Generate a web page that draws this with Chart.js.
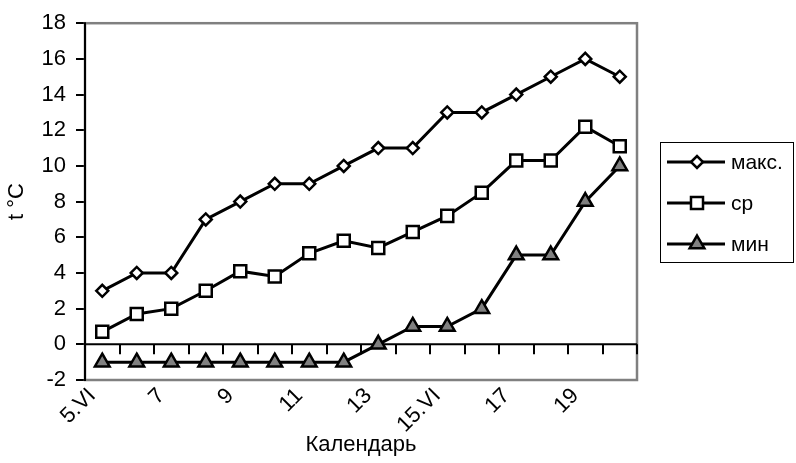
<!DOCTYPE html>
<html lang="ru">
<head>
<meta charset="UTF-8">
<title>Температура воздуха</title>
<script src="https://cdn.jsdelivr.net/npm/chart.js"></script>
<style>
  html, body { margin: 0; padding: 0; background: #fff; }
  #wrap { width: 796px; height: 463px; }
</style>
</head>
<body>
<div id="wrap"><canvas id="chart" width="796" height="463"></canvas></div>
<script>
// data
const days = ['5.VI', '6', '7', '8', '9', '10', '11', '12', '13', '14', '15.VI', '16', '17', '18', '19', '20'];
const tMax = [3, 4, 4, 7, 8, 9, 9, 10, 11, 11, 13, 13, 14, 15, 16, 15];
const tAvg = [0.7, 1.7, 2.0, 3.0, 4.1, 3.8, 5.1, 5.8, 5.4, 6.3, 7.2, 8.5, 10.3, 10.3, 12.2, 11.1];
const tMin = [-1, -1, -1, -1, -1, -1, -1, -1, 0, 1, 1, 2, 5, 5, 8, 10];
const yMin = -2, yMax = 18, yStep = 2;

const FONT = 'Liberation Sans, Arial, sans-serif';

// plot frame, zero axis with its tick marks, and a boxed legend
const framePlugin = {
  id: 'frame',
  beforeDatasetsDraw(chart) {
    const { ctx, chartArea: a, scales: { x, y } } = chart;
    ctx.save();
    ctx.strokeStyle = '#808080';
    ctx.lineWidth = 2.5;
    ctx.strokeRect(a.left, a.top, a.right - a.left, a.bottom - a.top);

    ctx.strokeStyle = '#000';
    ctx.lineWidth = 2;
    ctx.beginPath();
    ctx.moveTo(a.left, a.top - 1);
    ctx.lineTo(a.left, a.bottom + 1);
    const y0 = y.getPixelForValue(0);
    ctx.moveTo(a.left, y0);
    ctx.lineTo(a.right, y0);
    const half = (x.getPixelForValue(1) - x.getPixelForValue(0)) / 2;
    for (let i = 0; i <= days.length; i++) {
      const px = Math.round(x.getPixelForValue(i) - half);
      ctx.moveTo(px, y0);
      ctx.lineTo(px, y0 + 10);
    }
    ctx.stroke();
    ctx.restore();
  },
  afterDraw(chart) {
    const { ctx, chartArea: a } = chart;
    const bw = 133, bh = 120;
    const bx = a.right + 23;
    const by = Math.round((a.top + a.bottom) / 2 - bh / 2);
    ctx.save();
    ctx.strokeStyle = '#000';
    ctx.lineWidth = 1;
    ctx.strokeRect(bx + 0.5, by + 0.5, bw, bh);
    ctx.font = '21px ' + FONT;
    ctx.textBaseline = 'middle';
    chart.data.datasets.forEach((ds, i) => {
      const ry = by + 20 + i * 41;
      ctx.strokeStyle = '#000';
      ctx.lineWidth = 3;
      ctx.beginPath();
      ctx.moveTo(bx + 7, ry);
      ctx.lineTo(bx + 65, ry);
      ctx.stroke();
      ctx.fillStyle = ds.pointBackgroundColor;
      ctx.lineWidth = ds.pointBorderWidth;
      Chart.helpers.drawPoint(ctx, {
        pointStyle: ds.pointStyle, radius: ds.pointRadius,
        borderWidth: ds.pointBorderWidth, rotation: 0
      }, bx + 37, ry);
      ctx.fillStyle = '#000';
      ctx.fillText(ds.label, bx + 71, ry + 1);
    });
    ctx.restore();
  }
};

function series(label, values, style, radius, fill) {
  return {
    label: label,
    data: values,
    borderColor: '#000',
    borderWidth: 3,
    tension: 0,
    pointStyle: style,
    pointRadius: radius,
    pointHoverRadius: radius,
    pointBackgroundColor: fill,
    pointBorderColor: '#000',
    pointBorderWidth: 2.5
  };
}

new Chart(document.getElementById('chart'), {
  type: 'line',
  data: {
    labels: days,
    datasets: [
      series('макс.', tMax, 'rectRot', 6, '#fff'),
      series('ср', tAvg, 'rect', 8.5, '#fff'),
      series('мин', tMin, 'triangle', 8.5, '#808080')
    ]
  },
  options: {
    responsive: false,
    animation: false,
    layout: { padding: { top: 16, right: 159, left: 0, bottom: 0 } },
    plugins: {
      legend: { display: false },
      tooltip: { enabled: false }
    },
    scales: {
      x: {
        offset: true,
        grid: { display: false },
        border: { display: false },
        ticks: {
          autoSkip: false,
          maxRotation: 45,
          minRotation: 45,
          padding: -5,
          labelOffset: -10,
          color: '#000',
          font: { family: FONT, size: 22 },
          callback: (v, i) => (i % 2 === 0 ? days[i] : '')
        },
        title: {
          display: true,
          text: 'Календарь',
          color: '#000',
          font: { family: FONT, size: 22 },
          padding: { top: 0, bottom: 5 }
        },
        afterFit: (s) => { s.height = 83; }
      },
      y: {
        min: yMin,
        max: yMax,
        grid: { drawOnChartArea: false, drawTicks: true, tickLength: 9, color: '#000', lineWidth: 2 },
        border: { display: false },
        ticks: {
          stepSize: yStep,
          padding: 10,
          color: '#000',
          font: { family: FONT, size: 22 }
        },
        title: {
          display: true,
          text: 't °C',
          color: '#000',
          font: { family: FONT, size: 22 },
          padding: { top: 4, bottom: 0 }
        },
        afterFit: (s) => { s.width = 85; }
      }
    }
  },
  plugins: [framePlugin]
});
</script>
</body>
</html>
